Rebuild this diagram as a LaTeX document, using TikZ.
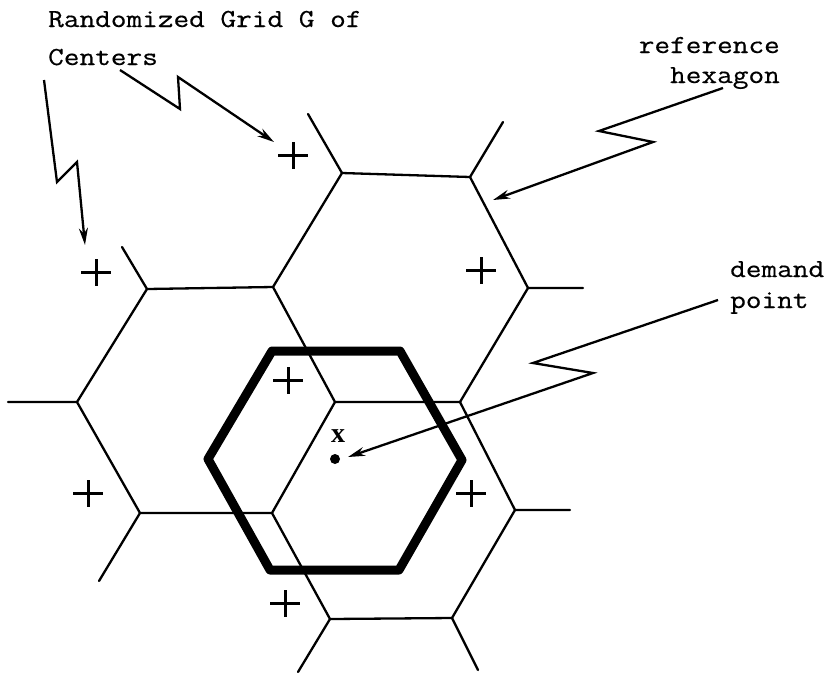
\documentclass[tikz,border=0pt]{standalone}
\usepackage{fontspec}
\setmonofont{Latin Modern Mono}[FakeStretch=1.17, FakeBold=0.5]
\newfontfamily\serifx{Liberation Serif}
\usetikzlibrary{arrows.meta}
\begin{document}
\begin{tikzpicture}[x=1pt,y=-1pt,
  grid/.style={line width=2.3pt, line cap=round, line join=round},
  thickhex/.style={line width=9pt, line join=round},
  cross/.style={line width=3pt},
  pointer/.style={line width=2.3pt, line join=miter, -{Stealth[length=17pt,width=9pt]}},
  lbl/.style={font=\ttfamily\fontsize{26}{30}\selectfont, inner sep=0pt},
  plusmark/.pic={\draw[cross] (-15,0)--(15,0) (0,-13)--(0,14);}]
\useasboundingbox (0,0) rectangle (829,673);
% grid vertices
\coordinate (A) at (342,173);
\coordinate (D) at (470,177);
\coordinate (C) at (147,289);
\coordinate (B) at (273,287);
\coordinate (E) at (528,288);
\coordinate (F) at (77,402);
\coordinate (I) at (335,402);
\coordinate (K) at (460,402);
\coordinate (G) at (140,513);
\coordinate (H) at (272,513);
\coordinate (L) at (515,510);
\coordinate (J) at (330,619);
\coordinate (M) at (452,618);
% stub ends
\coordinate (sA) at (308,114);
\coordinate (sD) at (503,122);
\coordinate (sE) at (583,288);
\coordinate (sC) at (122,247);
\coordinate (sF) at (8,402);
\coordinate (sG) at (99,581);
\coordinate (sJ) at (298,672);
\coordinate (sM) at (478,670);
\coordinate (sL) at (570,510);
% grid edges
\draw[grid] (A)--(D)--(E)--(K)--(I)--(B)--cycle;
\draw[grid] (B)--(C)--(F)--(G)--(H)--(I);
\draw[grid] (K)--(L)--(M)--(J)--(H);
\draw[grid] (A)--(sA) (D)--(sD) (E)--(sE) (C)--(sC) (F)--(sF)
            (G)--(sG) (J)--(sJ) (M)--(sM) (L)--(sL);
% reference hexagon
\coordinate (R1) at (272,351);
\coordinate (R2) at (400,351);
\coordinate (R3) at (462,460);
\coordinate (R4) at (399,570);
\coordinate (R5) at (270,570);
\coordinate (R6) at (208,459);
\draw[thickhex] (R1)--(R2)--(R3)--(R4)--(R5)--(R6)--cycle;
% centers
\pic at (293,155) {plusmark};
\pic at (96,272) {plusmark};
\pic at (481,270) {plusmark};
\pic at (288,380) {plusmark};
\pic at (88,493) {plusmark};
\pic at (285,603) {plusmark};
\pic at (471,493) {plusmark};
% demand point
\node[circle, fill, inner sep=0pt, minimum size=10pt] (dot) at (335,459) {};
\node[font=\serifx\bfseries\fontsize{28}{28}\selectfont, inner sep=0pt] (xl) at (338,436) {x};
% labels
\node[lbl, anchor=base west] (t1) at (48,27) {Randomized Grid G of};
\node[lbl, anchor=base west] (t2) at (48,65) {Centers};
\node[lbl, anchor=base east] (t3) at (780,53) {reference};
\node[lbl, anchor=base east] (t4) at (780,83) {hexagon};
\node[lbl, anchor=base west] (t5) at (730,277) {demand};
\node[lbl, anchor=base west] (t6) at (730,308) {point};
% pointers
\coordinate (a1s) at (120,70);
\coordinate (a1a) at (180,109);
\coordinate (a1b) at (178,77);
\coordinate (a1t) at (274,142);
\draw[pointer] (a1s)--(a1a)--(a1b)--(a1t);
\coordinate (a2s) at (44,80);
\coordinate (a2a) at (57,182);
\coordinate (a2b) at (77,162);
\coordinate (a2t) at (85,245);
\draw[pointer] (a2s)--(a2a)--(a2b)--(a2t);
\coordinate (a3s) at (723,88);
\coordinate (a3a) at (599,131);
\coordinate (a3b) at (653,142);
\coordinate (a3t) at (493,200);
\draw[pointer] (a3s)--(a3a)--(a3b)--(a3t);
\coordinate (a4s) at (718,300);
\coordinate (a4a) at (533,363);
\coordinate (a4b) at (593,373);
\coordinate (a4t) at (348,457);
\draw[pointer] (a4s)--(a4a)--(a4b)--(a4t);
\end{tikzpicture}
\end{document}
